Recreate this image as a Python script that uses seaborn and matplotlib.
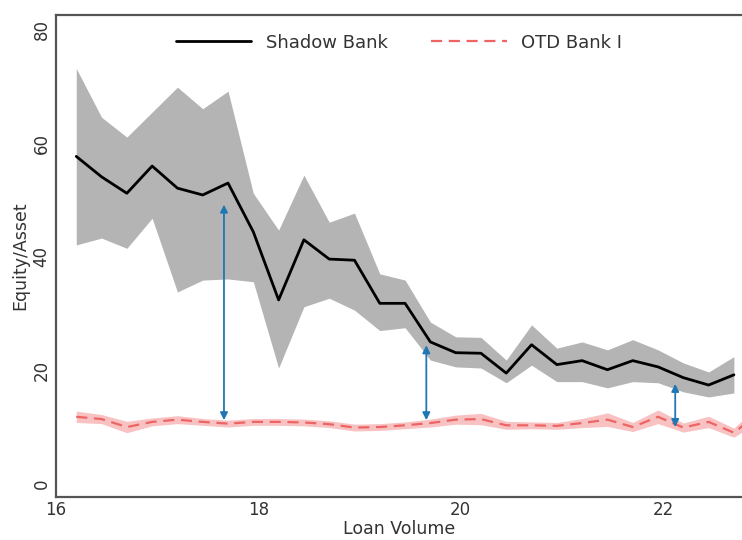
import numpy as np
import pandas as pd
import matplotlib
matplotlib.use('Agg')
import matplotlib.pyplot as plt
import seaborn as sns

# Loan volume grid (log scale)
loan_volume = [16.2, 16.45, 16.7, 16.95, 17.2, 17.45, 17.7, 17.95, 18.2, 18.45,
               18.7, 18.95, 19.2, 19.45, 19.7, 19.95, 20.2, 20.45, 20.7, 20.95,
               21.2, 21.45, 21.7, 21.95, 22.2, 22.45, 22.7]

# Shadow bank equity/asset: mean and band
shadow_mean = [57.7, 54.1, 51.2, 56.0, 52.1, 50.9, 53.0, 44.4, 32.4, 43.0,
               39.6, 39.4, 31.8, 31.8, 25.0, 23.1, 23.0, 19.5, 24.5, 21.0,
               21.7, 20.1, 21.7, 20.6, 18.7, 17.4, 19.2]
shadow_upper = [73.2, 64.6, 61.1, 65.5, 69.9, 66.1, 69.2, 51.2, 44.7, 54.4,
                46.1, 47.7, 37.0, 35.9, 28.5, 25.9, 25.8, 21.8, 28.0, 23.9,
                25.0, 23.6, 25.4, 23.6, 21.3, 19.7, 22.4]
shadow_lower = [42.1, 43.3, 41.5, 46.8, 33.8, 35.9, 36.1, 35.6, 20.4, 31.2,
                32.7, 30.6, 27.0, 27.5, 21.8, 20.6, 20.4, 17.8, 20.9, 18.0,
                18.0, 16.9, 18.0, 17.8, 16.2, 15.3, 16.0]

# OTD bank equity/asset: mean and band (one extra point past the axis edge)
otd_volume = loan_volume + [22.95]
otd_mean = [11.8, 11.4, 10.0, 10.9, 11.3, 10.9, 10.6, 10.9, 10.9, 10.8,
            10.5, 9.9, 10.0, 10.3, 10.7, 11.3, 11.4, 10.3, 10.3, 10.2,
            10.7, 11.3, 10.0, 11.8, 9.9, 10.9, 9.0, 12.5]
otd_halfwidth = [1.0, 0.8, 1.0, 0.7, 0.7, 0.6, 0.6, 0.6, 0.6, 0.6,
                 0.6, 0.6, 0.6, 0.6, 0.7, 0.8, 1.0, 0.7, 0.6, 0.6,
                 0.8, 1.2, 0.8, 1.2, 0.8, 1.0, 0.8, 1.5]

# Gap arrows: (x, bottom, top)
gap_x = [17.66, 19.66, 22.12]
gap_bottom = [11.2, 11.2, 10.0]
gap_top = [49.2, 24.4, 17.6]

df_shadow = pd.DataFrame({'x': loan_volume, 'y': shadow_mean})
df_otd = pd.DataFrame({'x': otd_volume, 'y': otd_mean})
otd_lo = np.array(otd_mean) - np.array(otd_halfwidth)
otd_hi = np.array(otd_mean) + np.array(otd_halfwidth)

sns.set_style('white')
fig = plt.figure(figsize=(7.42, 5.4), dpi=100)
ax = fig.add_axes([0.0755, 0.080, 0.9245, 0.892])

ax.fill_between(loan_volume, shadow_lower, shadow_upper, color='#b4b4b4', lw=0)
ax.fill_between(otd_volume, otd_lo, otd_hi, color='#f9c2c2', lw=0)
sns.lineplot(data=df_shadow, x='x', y='y', color='black', lw=2,
             label='Shadow Bank', ax=ax)
sns.lineplot(data=df_otd, x='x', y='y', color='#ec6464', lw=1.6,
             linestyle=(0, (5, 3)), label='OTD Bank I', ax=ax)

for gx, gb, gt in zip(gap_x, gap_bottom, gap_top):
    ax.annotate('', xy=(gx, gt), xytext=(gx, gb),
                arrowprops=dict(arrowstyle='<|-|>', color='#1f77b4', lw=1.3,
                                mutation_scale=11, shrinkA=0, shrinkB=0))

ax.set_xlim(16, 22.78)
ax.set_ylim(-2.3, 82.6)
ax.set_xticks([16, 18, 20, 22])
ax.set_yticks([0, 20, 40, 60, 80])
ax.tick_params(axis='both', length=0, labelsize=12, labelcolor='#333333')
ax.tick_params(axis='x', pad=3)
ax.tick_params(axis='y', pad=4)
for lab in ax.get_yticklabels():
    lab.set_rotation(90)
    lab.set_va('center')
ax.set_xlabel('Loan Volume', fontsize=12.5, color='#333333', labelpad=1)
ax.set_ylabel('Equity/Asset', fontsize=12.5, color='#333333', labelpad=2)

for side in ['left', 'bottom', 'top']:
    ax.spines[side].set_color('#555555')
    ax.spines[side].set_linewidth(1.6)
ax.spines['right'].set_visible(False)

ax.legend(loc='upper center', ncol=2, frameon=False, fontsize=13,
          handlelength=4.2, columnspacing=2.4, bbox_to_anchor=(0.5, 0.995),
          labelcolor='#333333')

fig.savefig('out.png', dpi=100)
